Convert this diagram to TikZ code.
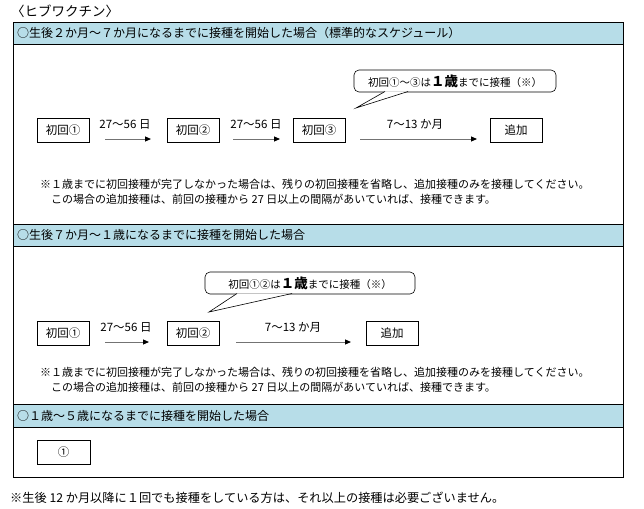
\documentclass[tikz,border=0pt]{standalone}
\usepackage{fontspec}
\setmainfont{Noto Sans CJK JP}
\usetikzlibrary{arrows.meta,positioning}
\definecolor{hdrblue}{RGB}{183,221,232}

\begin{document}
\begin{tikzpicture}[x=1pt,y=-1pt]
\tikzstyle{frame} = [draw, line width=0.8pt]
\tikzstyle{header} = [frame, fill=hdrblue]
\tikzstyle{htext} = [anchor=west, inner sep=0pt, font=\fontsize{12}{14}\selectfont]
\tikzstyle{dose} = [rectangle, draw, line width=0.8pt, minimum width=52pt,
minimum height=24pt, inner sep=0pt, font=\fontsize{11.5}{13}\selectfont]
\tikzstyle{gap} = [inner sep=0pt, font=\fontsize{11.5}{13}\selectfont]
\tikzstyle{note} = [anchor=west, inner sep=0pt, font=\fontsize{11}{13}\selectfont]
\tikzstyle{balloon} = [rectangle, rounded corners=5pt, draw, line width=0.6pt,
fill=white, minimum height=22pt, inner sep=0pt, font=\fontsize{10.5}{12}\selectfont]
\tikzstyle{tail} = [draw, line width=0.6pt]
\tikzstyle{line} = [draw, line width=1pt, black!55,
-{Triangle[length=6pt,width=5pt,black]}]

\useasboundingbox (0,0) rectangle (644,508);

% title
\node[anchor=west, inner sep=0pt, font=\fontsize{13.5}{15}\selectfont] (title) at (11,11) {〈ヒブワクチン〉};

% frame and header bands
\draw[frame] (13,22) rectangle (623,477);
\draw[header] (13,22) rectangle (623,44);
\draw[header] (13,224) rectangle (623,246);
\draw[header] (13,404) rectangle (623,427);
\node[htext] (headA) at (17,33) {○生後２か月～７か月になるまでに接種を開始した場合（標準的なスケジュール）};
\node[htext] (headB) at (17,235) {○生後７か月～１歳になるまでに接種を開始した場合};
\node[htext] (headC) at (17,415.5) {○１歳～５歳になるまでに接種を開始した場合};

% section 1
\node[balloon, minimum width=202pt] (balloonA) at (455,81)
{初回①～③は{\bfseries\fontsize{13.5}{15}\selectfont １歳}までに接種（※）};
\coordinate (tipA) at (356,108);
\fill[white] (385,91.5) -- (tipA) -- (408,91.5) -- cycle;
\path[tail] (385,91.5) -- (tipA) -- (408,91.5);

\node[dose] (aOne) at (63,130) {初回①};
\node[dose] (aTwo) at (193,130) {初回②};
\node[dose] (aThree) at (319,130) {初回③};
\node[dose] (aAdd) at (516,130) {追加};
\node[gap] (aGapOne) at (125,124) {27～56 日};
\node[gap] (aGapTwo) at (256,124) {27～56 日};
\node[gap] (aGapThree) at (415,124) {7～13 か月};
\coordinate (aArrOneS) at (105,139);
\coordinate (aArrOneE) at (151,139);
\coordinate (aArrTwoS) at (233,139);
\coordinate (aArrTwoE) at (280,139);
\coordinate (aArrThreeS) at (360,139);
\coordinate (aArrThreeE) at (477,139);

\node[note] (noteAOne) at (40,184) {※１歳までに初回接種が完了しなかった場合は、残りの初回接種を省略し、追加接種のみを接種してください。};
\node[note] (noteATwo) at (51,199) {この場合の追加接種は、前回の接種から 27 日以上の間隔があいていれば、接種できます。};

% section 2
\node[balloon, minimum width=210pt] (balloonB) at (310,283)
{初回①②は{\bfseries\fontsize{13.5}{15}\selectfont １歳}までに接種（※）};
\coordinate (tipB) at (209,312);
\fill[white] (237,293.5) -- (tipB) -- (292,293.5) -- cycle;
\path[tail] (237,293.5) -- (tipB) -- (292,293.5);

\node[dose] (bOne) at (63,333) {初回①};
\node[dose] (bTwo) at (193,333) {初回②};
\node[dose] (bAdd) at (392,333) {追加};
\node[gap] (bGapOne) at (126,327) {27～56 日};
\node[gap] (bGapTwo) at (293,327) {7～13 か月};
\coordinate (bArrOneS) at (105,342);
\coordinate (bArrOneE) at (149,342);
\coordinate (bArrTwoS) at (236,342);
\coordinate (bArrTwoE) at (351,342);

\node[note] (noteBOne) at (40,372) {※１歳までに初回接種が完了しなかった場合は、残りの初回接種を省略し、追加接種のみを接種してください。};
\node[note] (noteBTwo) at (51,387) {この場合の追加接種は、前回の接種から 27 日以上の間隔があいていれば、接種できます。};

% section 3
\node[dose, minimum width=53pt] (cOne) at (63.5,452) {①};

% footnote
\node[anchor=west, inner sep=0pt, font=\fontsize{12.2}{14}\selectfont] (footnote) at (10,498)
{※生後 12 か月以降に１回でも接種をしている方は、それ以上の接種は必要ございません。};

\path[line] (aArrOneS) -- (aArrOneE);
\path[line] (aArrTwoS) -- (aArrTwoE);
\path[line] (aArrThreeS) -- (aArrThreeE);
\path[line] (bArrOneS) -- (bArrOneE);
\path[line] (bArrTwoS) -- (bArrTwoE);
\end{tikzpicture}
\end{document}
